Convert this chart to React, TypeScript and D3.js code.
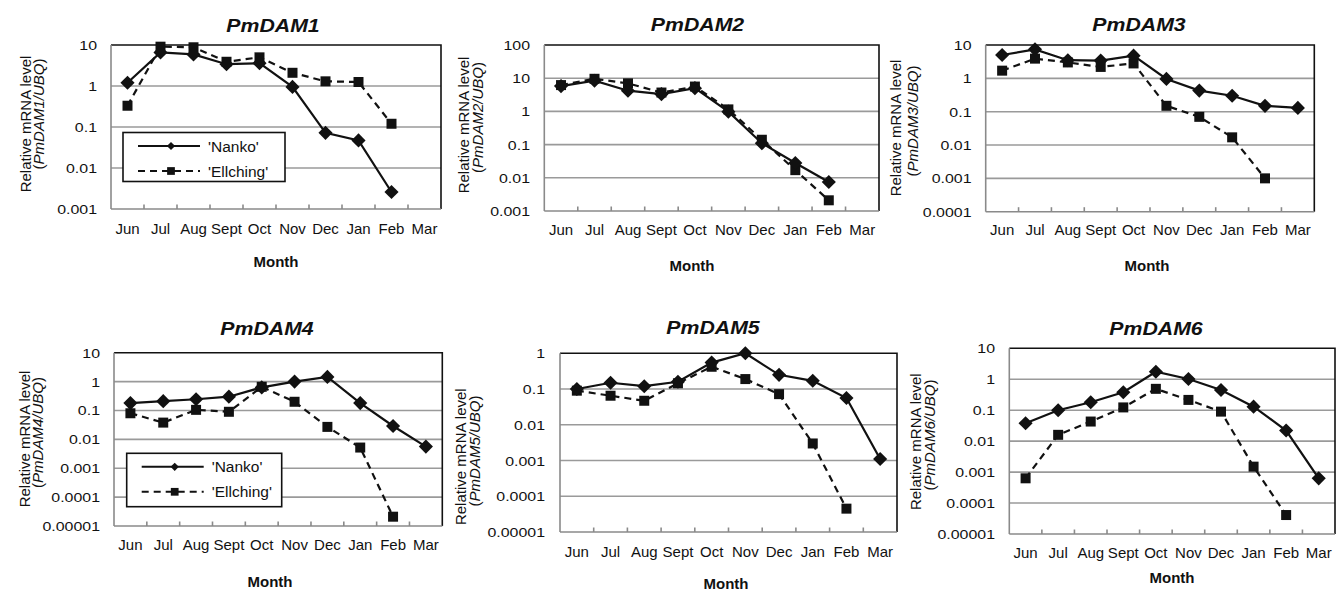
import React from "react";
import * as d3 from "d3";

const W = 1343;
const H = 590;
const FONT = "'Liberation Sans', Arial, sans-serif";

const months = ["Jun", "Jul", "Aug", "Sept", "Oct", "Nov", "Dec", "Jan", "Feb", "Mar"];
const seriesNames = ["'Nanko'", "'Ellching'"];

// values (null = no sample)
const dam1Nanko = [1.2, 6.6, 5.9, 3.4, 3.6, 0.95, 0.072, 0.047, 0.0026, null];
const dam1Ellching = [0.33, 9.1, 8.8, 3.9, 5.0, 2.1, 1.3, 1.25, 0.12, null];
const dam2Nanko = [5.8, 8.4, 4.2, 3.3, 5.0, 0.98, 0.11, 0.028, 0.0075, null];
const dam2Ellching = [6.2, 9.6, 7.0, 3.7, 5.6, 1.15, 0.14, 0.017, 0.0021, null];
const dam3Nanko = [5.0, 7.4, 3.5, 3.4, 4.8, 0.96, 0.43, 0.3, 0.15, 0.13];
const dam3Ellching = [1.7, 3.9, 3.0, 2.2, 2.8, 0.15, 0.07, 0.017, 0.001, null];
const dam4Nanko = [0.18, 0.21, 0.245, 0.3, 0.63, 1.0, 1.45, 0.18, 0.029, 0.0056];
const dam4Ellching = [0.08, 0.038, 0.105, 0.09, 0.66, 0.2, 0.027, 0.0052, 0.000021, null];
const dam5Nanko = [0.1, 0.15, 0.12, 0.16, 0.55, 1.0, 0.25, 0.17, 0.056, 0.0011];
const dam5Ellching = [0.09, 0.065, 0.047, 0.145, 0.42, 0.19, 0.072, 0.003, 0.000045, null];
const dam6Nanko = [0.038, 0.1, 0.18, 0.38, 1.75, 1.02, 0.45, 0.13, 0.022, 0.00063];
const dam6Ellching = [0.00063, 0.016, 0.043, 0.123, 0.49, 0.215, 0.09, 0.0015, 0.000041, null];

const ticks3 = [0.001, 0.01, 0.1, 1, 10];
const ticks2 = [0.001, 0.01, 0.1, 1, 10, 100];
const ticks4 = [0.0001, 0.001, 0.01, 0.1, 1, 10];
const ticks5 = [0.00001, 0.0001, 0.001, 0.01, 0.1, 1, 10];
const ticks1 = [0.00001, 0.0001, 0.001, 0.01, 0.1, 1];

const panels = [
  { gene: "PmDAM1", nanko: dam1Nanko, ellching: dam1Ellching, ticks: ticks3, box: [111, 441, 45, 209],
    titleX: 273, titleY: 31.5, monthY: 233.5, xTitle: [276, 266.5], yt: [31, 124, 44, 114], tickX: 97,
    legend: [123, 132.5, 162, 49] },
  { gene: "PmDAM2", nanko: dam2Nanko, ellching: dam2Ellching, ticks: ticks2, box: [544.3, 879, 45, 211],
    titleX: 697.5, titleY: 30.5, monthY: 235, xTitle: [692, 271], yt: [469, 125, 483, 117.5], tickX: 530 },
  { gene: "PmDAM3", nanko: dam3Nanko, ellching: dam3Ellching, ticks: ticks4, box: [985.7, 1314.3, 45, 211.7],
    titleX: 1139, titleY: 30.5, monthY: 235, xTitle: [1147, 271], yt: [901, 128, 918, 121], tickX: 971.5 },
  { gene: "PmDAM4", nanko: dam4Nanko, ellching: dam4Ellching, ticks: ticks5, box: [114, 442.3, 352.7, 526],
    titleX: 267, titleY: 335, monthY: 550, xTitle: [270, 586.5], yt: [30, 439, 43, 432.5], tickX: 100,
    legend: [126.7, 453.3, 155, 53.4] },
  { gene: "PmDAM5", nanko: dam5Nanko, ellching: dam5Ellching, ticks: ticks1, box: [560, 897, 353.3, 532],
    titleX: 713, titleY: 333.5, monthY: 556.5, xTitle: [726, 588.5], yt: [466, 456.7, 480, 451], tickX: 545 },
  { gene: "PmDAM6", nanko: dam6Nanko, ellching: dam6Ellching, ticks: ticks5, box: [1009.3, 1335, 348.3, 534],
    titleX: 1156, titleY: 335, monthY: 558, xTitle: [1172, 583], yt: [921, 441.7, 935, 435], tickX: 995 },
];

const diamond = d3.symbol().type(d3.symbolSquare).size(100)();
const square = d3.symbol().type(d3.symbolSquare).size(100)();
const smallDiamond = d3.symbol().type(d3.symbolSquare).size(34)();
const smallSquare = d3.symbol().type(d3.symbolSquare).size(60)();

const T = ({ x, y, sx = 1, size, weight = "normal", italic = false, anchor = "middle", children }: any) => (
  <text
    transform={`translate(${x},${y}) scale(${sx},1)`}
    fontSize={size}
    fontWeight={weight}
    fontStyle={italic ? "italic" : "normal"}
    textAnchor={anchor}
    fontFamily={FONT}
    fill="#111"
  >
    {children}
  </text>
);

const Panel = ({ p }: any) => {
  const [x0, x1, y0, y1] = p.box;
  const x = d3.scaleBand().domain(months).range([x0, x1]).padding(0);
  const cx = (m: string) => (x(m) as number) + x.bandwidth() / 2;
  const y = d3.scaleLog().domain([p.ticks[0], p.ticks[p.ticks.length - 1]]).range([y1, y0]);

  const pts = (vals: (number | null)[]) => months.map((m, i) => ({ m, v: vals[i] }));
  const ln = d3
    .line<any>()
    .defined((d) => d.v != null)
    .x((d) => cx(d.m))
    .y((d) => y(d.v));

  const nk = pts(p.nanko);
  const el = pts(p.ellching);

  return (
    <g>
      {/* gridlines */}
      {p.ticks.slice(1, -1).map((t: number) => (
        <line key={t} x1={x0} x2={x1} y1={y(t)} y2={y(t)} stroke="#9a9a9a" strokeWidth={1.6} />
      ))}
      {/* plot border top/right */}
      <path d={`M${x0},${y0}H${x1}V${y1}`} fill="none" stroke="#111" strokeWidth={1.6} />
      {/* axes */}
      <line x1={x0} x2={x0} y1={y0} y2={y1} stroke="#8a8a8a" strokeWidth={1.6} />
      <line x1={x0} x2={x1} y1={y1} y2={y1} stroke="#8a8a8a" strokeWidth={1.6} />
      {months.slice(1).map((m) => (
        <line key={m} x1={x(m)} x2={x(m)} y1={y1} y2={y1 - 4.5} stroke="#8a8a8a" strokeWidth={1.6} />
      ))}
      {/* y tick labels */}
      {p.ticks.map((t: number) => (
        <T key={t} x={p.tickX} y={y(t) + 5} sx={1.18} size={13.5} anchor="end">
          {String(t)}
        </T>
      ))}
      {/* month labels */}
      {months.map((m) => (
        <T key={m} x={cx(m)} y={p.monthY} size={15}>
          {m}
        </T>
      ))}
      <T x={p.xTitle[0]} y={p.xTitle[1]} size={15} weight="bold">
        Month
      </T>
      <T x={p.titleX} y={p.titleY} sx={1.12} size={19} weight="bold" italic>
        {p.gene}
      </T>
      {/* y title */}
      <text transform={`translate(${p.yt[0]},${p.yt[1]}) rotate(-90)`} fontSize={15} fontFamily={FONT} textAnchor="middle" fill="#111">
        Relative mRNA level
      </text>
      <text transform={`translate(${p.yt[2]},${p.yt[3]}) rotate(-90)`} fontSize={15} fontFamily={FONT} textAnchor="middle" fill="#111">
        (<tspan fontStyle="italic">{p.gene}/UBQ</tspan>)
      </text>
      {/* series */}
      <path d={ln(el) as string} fill="none" stroke="#111" strokeWidth={2.2} strokeDasharray="7,5" />
      <path d={ln(nk) as string} fill="none" stroke="#111" strokeWidth={2.2} />
      {el.filter((d) => d.v != null).map((d) => (
        <path key={"e" + d.m} d={square} transform={`translate(${cx(d.m)},${y(d.v as number)})`} fill="#111" />
      ))}
      {nk.filter((d) => d.v != null).map((d) => (
        <path key={"n" + d.m} d={diamond} transform={`translate(${cx(d.m)},${y(d.v as number)}) rotate(45)`} fill="#111" />
      ))}
      {p.legend && <Legend box={p.legend} />}
    </g>
  );
};

const Legend = ({ box }: any) => {
  const [lx, ly, lw, lh] = box;
  const rowY = [ly + 13.5, ly + 38.5];
  const l0 = lx + 15;
  const l1 = lx + 77;
  const mid = (l0 + l1) / 2 + 2;
  return (
    <g>
      <rect x={lx} y={ly} width={lw} height={lh} fill="#fff" stroke="#111" strokeWidth={1.6} />
      <line x1={l0} x2={l1} y1={rowY[0]} y2={rowY[0]} stroke="#111" strokeWidth={2} />
      <path d={smallDiamond} transform={`translate(${mid},${rowY[0]}) rotate(45)`} fill="#111" />
      <line x1={l0} x2={l1} y1={rowY[1]} y2={rowY[1]} stroke="#111" strokeWidth={2} strokeDasharray="7,5" />
      <path d={smallSquare} transform={`translate(${mid},${rowY[1]})`} fill="#111" />
      {seriesNames.map((s, i) => (
        <T key={s} x={l1 + 8} y={rowY[i] + 5.5} size={15.5} anchor="start">
          {s}
        </T>
      ))}
    </g>
  );
};

export default function App() {
  return (
    <svg width={W} height={H} style={{ position: "absolute", left: 0, top: 0, background: "#fff" }}>
      {panels.map((p) => (
        <Panel key={p.gene} p={p} />
      ))}
    </svg>
  );
}
